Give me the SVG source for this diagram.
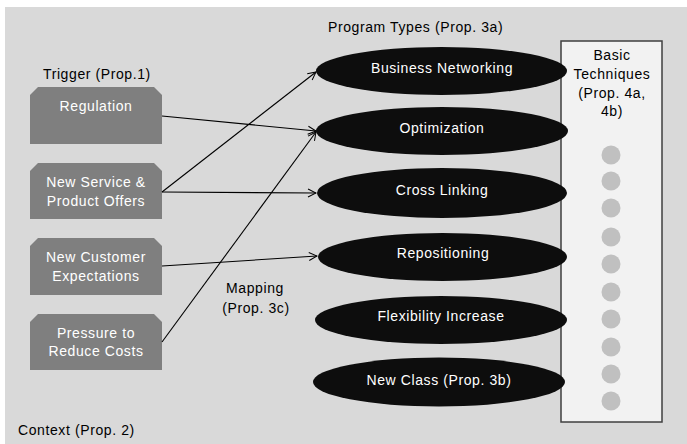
<svg xmlns="http://www.w3.org/2000/svg" width="687" height="444" viewBox="0 0 687 444">
<defs>
<marker id="arr" markerWidth="10" markerHeight="10" refX="9" refY="5" orient="auto" markerUnits="userSpaceOnUse">
<path d="M1,1 L9,5 L1,9" fill="none" stroke="#000" stroke-width="1"/>
</marker>
</defs>
<style>
text{font-family:"Liberation Sans",Arial,sans-serif;font-size:14px;letter-spacing:0.6px}
.lbl{fill:#000}
.wt{fill:#fff;text-anchor:middle}
.trig{fill:#7f7f7f}
.prog{fill:#0d0d0d}
.dot{fill:#c0c0c0}
.conn{stroke:#000;stroke-width:1.1;fill:none;marker-end:url(#arr)}
</style>
<rect x="0" y="0" width="687" height="444" fill="#fff"/>
<rect x="5" y="7" width="682" height="437" fill="#d9d9d9"/>
<text class="lbl" x="328" y="32">Program Types (Prop. 3a)</text>
<text class="lbl" x="43" y="79">Trigger (Prop.1)</text>
<text class="lbl" x="255" y="293" text-anchor="middle">Mapping</text>
<text class="lbl" x="256" y="313" text-anchor="middle">(Prop. 3c)</text>
<text class="lbl" x="18" y="435">Context (Prop. 2)</text>
<g id="techniques">
<rect x="561" y="41" width="101" height="381" fill="#f2f2f2" stroke="#3f3f3f" stroke-width="1.5"/>
<text class="lbl" x="612" y="60" text-anchor="middle">Basic</text>
<text class="lbl" x="612" y="79" text-anchor="middle">Techniques</text>
<text class="lbl" x="612" y="98" text-anchor="middle">(Prop. 4a,</text>
<text class="lbl" x="612" y="116" text-anchor="middle">4b)</text>
<circle class="dot" cx="611" cy="155" r="9.5"/>
<circle class="dot" cx="611" cy="181" r="9.5"/>
<circle class="dot" cx="611" cy="208" r="9.5"/>
<circle class="dot" cx="611" cy="237" r="9.5"/>
<circle class="dot" cx="611" cy="264" r="9.5"/>
<circle class="dot" cx="611" cy="292" r="9.5"/>
<circle class="dot" cx="611" cy="319" r="9.5"/>
<circle class="dot" cx="611" cy="347" r="9.5"/>
<circle class="dot" cx="611" cy="374" r="9.5"/>
<circle class="dot" cx="611" cy="401" r="9.5"/>
</g>
<g id="regulation">
<path class="trig" d="M38,87 H154 L162,95 V144 H30 V95 Z"/>
<text class="wt" x="96" y="111">Regulation</text>
</g>
<g id="new-service">
<path class="trig" d="M38,163 H154 L162,171 V219 H30 V171 Z"/>
<text class="wt" x="96" y="187">New Service &amp;</text>
<text class="wt" x="96" y="206">Product Offers</text>
</g>
<g id="new-customer">
<path class="trig" d="M38,238 H154 L162,246 V295 H30 V246 Z"/>
<text class="wt" x="96" y="262">New Customer</text>
<text class="wt" x="96" y="281">Expectations</text>
</g>
<g id="pressure">
<path class="trig" d="M38,314 H154 L162,322 V370 H30 V322 Z"/>
<text class="wt" x="96" y="338">Pressure to</text>
<text class="wt" x="96" y="356">Reduce Costs</text>
</g>
<g id="business-networking">
<ellipse class="prog" cx="441.5" cy="71" rx="125.5" ry="24"/>
<text class="wt" x="442" y="73">Business Networking</text>
</g>
<g id="optimization">
<ellipse class="prog" cx="442" cy="131" rx="126" ry="24"/>
<text class="wt" x="442" y="133">Optimization</text>
</g>
<g id="cross-linking">
<ellipse class="prog" cx="442" cy="193" rx="125" ry="25"/>
<text class="wt" x="442" y="195">Cross Linking</text>
</g>
<g id="repositioning">
<ellipse class="prog" cx="442.5" cy="257" rx="124.5" ry="24"/>
<text class="wt" x="443" y="258">Repositioning</text>
</g>
<g id="flexibility">
<ellipse class="prog" cx="441" cy="320" rx="126" ry="24"/>
<text class="wt" x="441" y="321">Flexibility Increase</text>
</g>
<g id="new-class">
<ellipse class="prog" cx="439" cy="382" rx="126" ry="24.5"/>
<text class="wt" x="439" y="385">New Class (Prop. 3b)</text>
</g>
<g id="connectors">
<line class="conn" x1="162" y1="116" x2="316" y2="131"/>
<line class="conn" x1="162" y1="192" x2="316" y2="72"/>
<line class="conn" x1="162" y1="192" x2="316" y2="193"/>
<line class="conn" x1="162" y1="266" x2="317" y2="256"/>
<line class="conn" x1="162" y1="342" x2="316" y2="132"/>
</g>
</svg>
